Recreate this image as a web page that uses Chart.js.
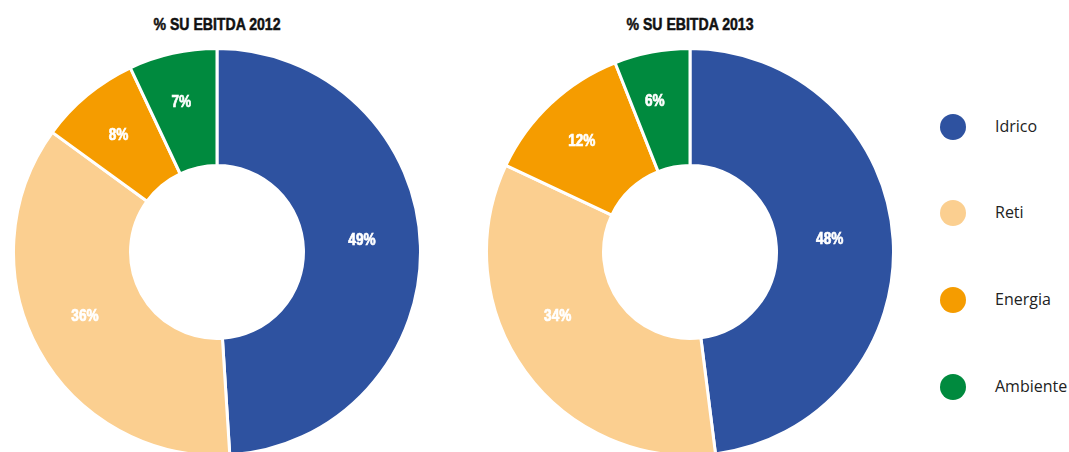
<!DOCTYPE html>
<html>
<head>
<meta charset="utf-8">
<script src="https://cdn.jsdelivr.net/npm/chart.js@4.4.0/dist/chart.umd.min.js"></script>
<style>
    html, body { margin: 0; padding: 0; background: #fff; overflow: hidden; width: 1069px; height: 452px; }
    .title { position: absolute; top: 16px; width: 300px; text-align: center; font-family: "Liberation Sans", Arial, sans-serif; font-weight: bold; font-size: 16px; color: #111; transform: scaleX(0.88); -webkit-text-stroke: 0.5px #111; }
    .pie { position: absolute; top: 47px; width: 410px; height: 410px; }
    .legend { position: absolute; left: 940px; top: 0; font-family: "Open Sans", "Liberation Sans", sans-serif; font-size: 16px; color: #222; }
    .legend .item { position: absolute; left: 0; white-space: nowrap; }
    .legend .dot { position: absolute; left: 0; width: 26px; height: 26px; border-radius: 50%; }
    .legend .lbl { position: absolute; left: 55px; top: 1px; }
</style>
</head>
<body>
<div class="title" style="left:67px">% SU EBITDA 2012</div>
<div class="title" style="left:540px">% SU EBITDA 2013</div>
<div class="pie" style="left:12px"><canvas id="pie2012"></canvas></div>
<div class="pie" style="left:485px"><canvas id="pie2013"></canvas></div>
<div class="legend" id="legend"></div>
<script>
const categories = ['Idrico', 'Reti', 'Energia', 'Ambiente'];
const values2012 = [49, 36, 8, 7];
const values2013 = [48, 34, 12, 6];
const colors = ['#2E52A0', '#FBCF90', '#F59C00', '#008A3E'];

// etichette percentuali dentro gli spicchi (con piccoli spostamenti come nell'originale)
const sliceLabels = {
    id: 'sliceLabels',
    afterDatasetsDraw(chart, args, opts) {
        const ctx = chart.ctx;
        const meta = chart.getDatasetMeta(0);
        const data = chart.data.datasets[0].data;
        const shift = opts.shift || [];
        ctx.save();
        ctx.fillStyle = '#fff';
        ctx.strokeStyle = '#fff';
        ctx.lineWidth = 0.7;
        ctx.font = 'bold 16px "Liberation Sans", Arial, sans-serif';
        ctx.textAlign = 'center';
        ctx.textBaseline = 'middle';
        meta.data.forEach((arc, i) => {
            const p = arc.tooltipPosition();
            const s = shift[i] || [0, 0];
            ctx.save();
            ctx.translate(p.x + s[0], p.y + s[1]);
            ctx.scale(0.85, 1);
            ctx.fillText(data[i] + '%', 0, 0);
            ctx.strokeText(data[i] + '%', 0, 0);
            ctx.restore();
        });
        ctx.restore();
    }
};

function makeDoughnut(id, values, shift) {
    return new Chart(document.getElementById(id).getContext('2d'), {
        type: 'doughnut',
        data: {
            labels: categories,
            datasets: [{
                data: values,
                backgroundColor: colors,
                borderColor: '#fff',
                borderWidth: 3
            }]
        },
        options: {
            responsive: true,
            maintainAspectRatio: false,
            animation: false,
            cutout: '42.5%',
            layout: { padding: 0 },
            plugins: {
                legend: { display: false },
                tooltip: { enabled: false },
                sliceLabels: { shift: shift }
            }
        },
        plugins: [sliceLabels]
    });
}

makeDoughnut('pie2012', values2012, [[0, -7], [-5, -5], [-6, -5], [-4, -8]]);
makeDoughnut('pie2013', values2013, [[-5, -3], [-15, -21], [-9, -5], [-8, -8]]);

// legenda a destra
const legend = document.getElementById('legend');
const legendTops = [114, 200, 287, 374];
categories.forEach((c, i) => {
    const item = document.createElement('div');
    item.className = 'item';
    item.style.top = legendTops[i] + 'px';
    item.innerHTML = '<div class="dot" style="background:' + colors[i] + '"></div><div class="lbl">' + c + '</div>';
    legend.appendChild(item);
});
</script>
</body>
</html>
